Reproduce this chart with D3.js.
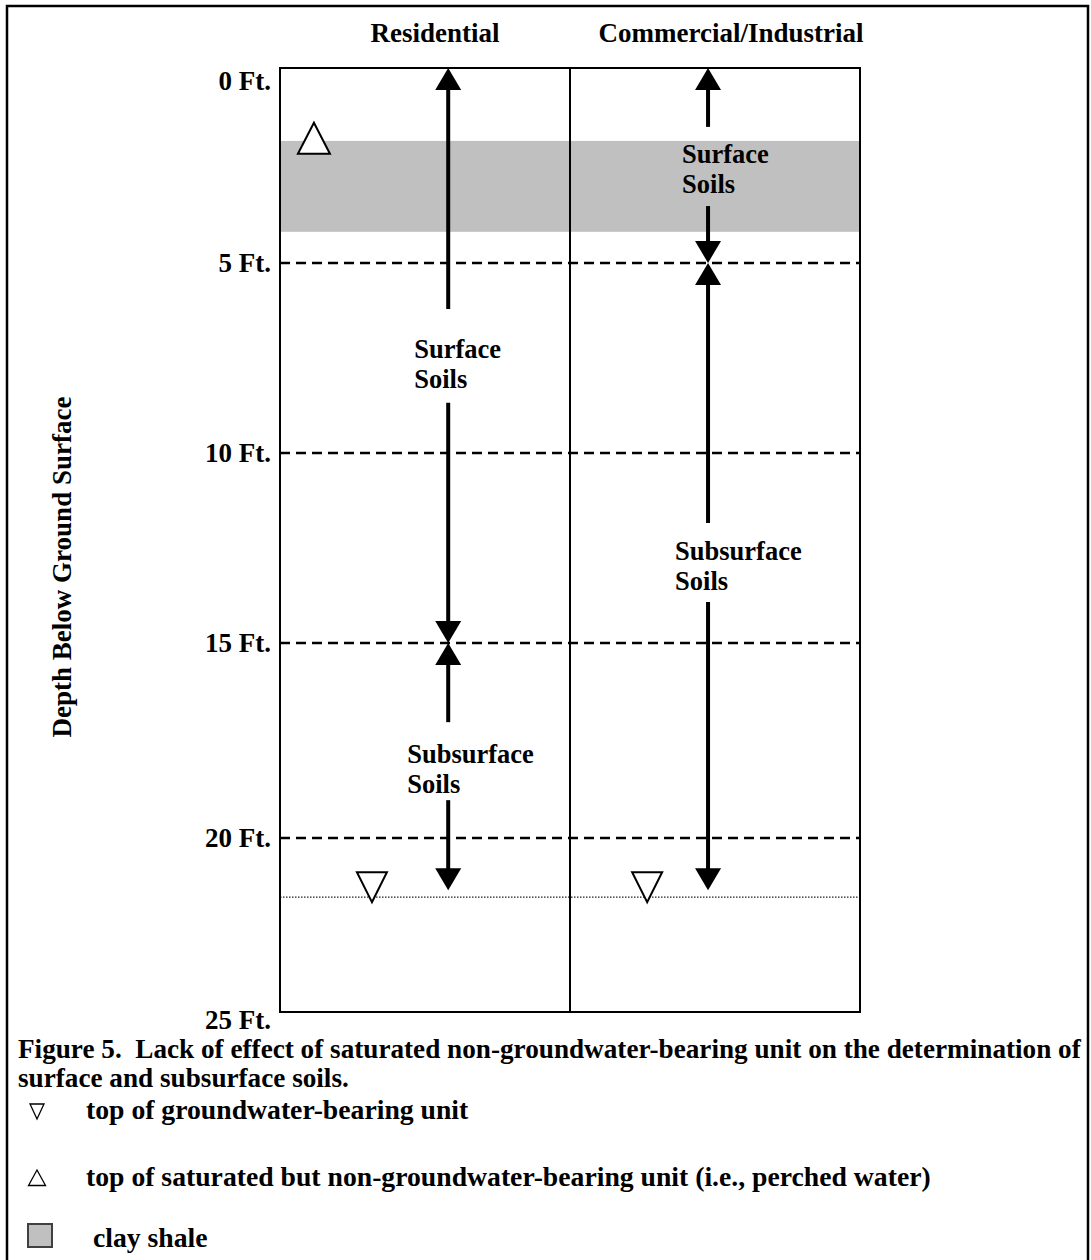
<!DOCTYPE html>
<html><head><meta charset="utf-8">
<script src="https://cdn.jsdelivr.net/npm/d3@7/dist/d3.min.js"></script>
<style>
body{margin:0;background:#fff}
text{font-family:'Liberation Serif','Times New Roman',serif;font-weight:bold;fill:#000}
</style>
</head><body>
<svg id="chart" width="1091" height="1260"></svg>
<script>
// ---- data ----
const depthTicks = [0, 5, 10, 15, 20, 25];
const tickLabels = ["0 Ft.", "5 Ft.", "10 Ft.", "15 Ft.", "20 Ft.", "25 Ft."];
const columns = ["Residential", "Commercial/Industrial"];
const clayLayer = [1.87, 4.2];             // depth (ft) of clay shale top / bottom
const perchedWater = [2.2];                // depth (ft) of perched-water symbol base (residential)
const groundwaterDepth = [21.7];           // depth (ft) of groundwater-bearing unit
const arrowColumn = [0, 0, 1, 1];
const arrowFrom = [0, 15, 0, 5];
const arrowTo = [15, 21.5, 5, 21.5];
const arrowGapFrom = [6.21, 17.03, 1.51, 11.84];
const arrowGapTo = [8.68, 19.03, 3.54, 13.92];
const arrowLabelDepth = [7.5, 18.08, 2.44, 12.82];
const arrowLabels = [["Surface", "Soils"], ["Subsurface", "Soils"], ["Surface", "Soils"], ["Subsurface", "Soils"]];
const yTitle = "Depth Below Ground Surface";
const captionLines = ["Figure 5.  Lack of effect of saturated non-groundwater-bearing unit on the determination of",
                      "surface and subsurface soils."];
const legendLabels = ["top of groundwater-bearing unit",
                      "top of saturated but non-groundwater-bearing unit (i.e., perched water)",
                      " clay shale"];

// ---- layout ----
const L = {
  boxLeft: 280, boxRight: 860, boxTop: 68, boxBottom: 1012,
  tickPx: [68, 263, 453, 643, 838, 1012],
  arrowFrac: [0.58, 0.58, 0.476, 0.476],
  labelDx: [-34, -41, -26, -33],
  gwFrac: [0.317, 0.266],
  perchedFrac: 0.117,
  headerX: [435, 731], headerY: 42,
  font: 27
};
const svg = d3.select("#chart");
const y = d3.scaleLinear().domain(depthTicks).range(L.tickPx);
const colX = d3.scaleBand().domain(columns).range([L.boxLeft, L.boxRight]).padding(0);
const cx = (col, frac) => colX(columns[col]) + frac * colX.bandwidth();

// outer frame
svg.append("rect").attr("x", 7).attr("y", 6).attr("width", 1081).attr("height", 1270)
  .attr("fill", "none").attr("stroke", "#000").attr("stroke-width", 2.5);

// clay shale band
svg.append("rect").attr("x", L.boxLeft).attr("width", L.boxRight - L.boxLeft)
  .attr("y", y(clayLayer[0])).attr("height", y(clayLayer[1]) - y(clayLayer[0]))
  .attr("fill", "#c0c0c0");

// dashed depth lines
svg.selectAll("line.grid").data(depthTicks.slice(1, -1)).join("line")
  .attr("class", "grid").attr("x1", L.boxLeft).attr("x2", L.boxRight)
  .attr("y1", d => y(d)).attr("y2", d => y(d))
  .attr("stroke", "#000").attr("stroke-width", 2.5).attr("stroke-dasharray", "10,6");

// groundwater dotted line
svg.append("line").attr("x1", L.boxLeft).attr("x2", L.boxRight)
  .attr("y1", y(groundwaterDepth[0])).attr("y2", y(groundwaterDepth[0]))
  .attr("stroke", "#222").attr("stroke-width", 1.3).attr("stroke-dasharray", "1.5,1.5");

// box and divider
svg.append("rect").attr("x", L.boxLeft).attr("y", L.boxTop)
  .attr("width", L.boxRight - L.boxLeft).attr("height", L.boxBottom - L.boxTop)
  .attr("fill", "none").attr("stroke", "#000").attr("stroke-width", 2);
svg.append("line").attr("x1", colX(columns[1])).attr("x2", colX(columns[1]))
  .attr("y1", L.boxTop).attr("y2", L.boxBottom).attr("stroke", "#000").attr("stroke-width", 2);

// column headers
svg.selectAll("text.hdr").data(columns).join("text").attr("class", "hdr")
  .attr("x", (d, i) => L.headerX[i]).attr("y", L.headerY).attr("text-anchor", "middle")
  .attr("font-size", L.font).text(d => d);

// tick labels
svg.selectAll("text.tick").data(depthTicks).join("text").attr("class", "tick")
  .attr("x", 271).attr("text-anchor", "end").attr("font-size", L.font)
  .attr("y", (d, i) => y(d) + (i === 0 ? 22 : i === depthTicks.length - 1 ? 17 : 8.5))
  .text((d, i) => tickLabels[i]);

// y title
svg.append("text").attr("transform", "translate(71,567) rotate(-90)")
  .attr("text-anchor", "middle").attr("font-size", L.font).text(yTitle);

// arrows
const headW = 13, headL = 22;
arrowColumn.forEach((c, i) => {
  const x = cx(c, L.arrowFrac[i]);
  const g = svg.append("g");
  const t = y(arrowFrom[i]), b = y(arrowTo[i]);
  g.append("line").attr("x1", x).attr("x2", x).attr("y1", t + headL - 2).attr("y2", y(arrowGapFrom[i]))
    .attr("stroke", "#000").attr("stroke-width", 4);
  g.append("line").attr("x1", x).attr("x2", x).attr("y1", y(arrowGapTo[i])).attr("y2", b - headL + 2)
    .attr("stroke", "#000").attr("stroke-width", 4);
  g.append("path").attr("d", `M${x},${t}L${x - headW},${t + headL}L${x + headW},${t + headL}Z`).attr("fill", "#000");
  g.append("path").attr("d", `M${x},${b}L${x - headW},${b - headL}L${x + headW},${b - headL}Z`).attr("fill", "#000");
  g.selectAll("text").data(arrowLabels[i]).join("text")
    .attr("x", x + L.labelDx[i]).attr("y", (d, k) => y(arrowLabelDepth[i]) + k * 30)
    .attr("font-size", 26.5).text(d => d);
});

// groundwater triangles (down)
L.gwFrac.forEach((f, c) => {
  const x = cx(c, f), tip = y(groundwaterDepth[0]) + 5;
  svg.append("path").attr("d", `M${x},${tip}L${x - 15},${tip - 30}L${x + 15},${tip - 30}Z`)
    .attr("fill", "#fff").attr("stroke", "#000").attr("stroke-width", 2);
});
// perched water triangle (up)
{
  const x = cx(0, L.perchedFrac), base = y(perchedWater[0]);
  svg.append("path").attr("d", `M${x},${base - 31}L${x - 16},${base}L${x + 16},${base}Z`)
    .attr("fill", "#fff").attr("stroke", "#000").attr("stroke-width", 2);
}

// caption
svg.selectAll("text.cap").data(captionLines).join("text").attr("class", "cap")
  .attr("x", 18).attr("y", (d, i) => 1058 + i * 29).attr("font-size", 27.2)
  .attr("xml:space", "preserve").style("white-space", "pre").text(d => d);

// legend
const legY = [1119, 1186, 1247];
svg.selectAll("text.leg").data(legendLabels).join("text").attr("class", "leg")
  .attr("x", 86).attr("y", (d, i) => legY[i]).attr("font-size", 27.7)
  .attr("xml:space", "preserve").style("white-space", "pre").text(d => d);
svg.append("path").attr("d", `M30,1104L44,1104L37,1119Z`).attr("fill", "none").attr("stroke", "#000").attr("stroke-width", 1.3);
svg.append("path").attr("d", `M37,1170L45.5,1185.5L28.5,1185.5Z`).attr("fill", "none").attr("stroke", "#000").attr("stroke-width", 1.3);
svg.append("rect").attr("x", 28).attr("y", 1224).attr("width", 24).attr("height", 23)
  .attr("fill", "#c0c0c0").attr("stroke", "#404040").attr("stroke-width", 2);
</script>
</body></html>
